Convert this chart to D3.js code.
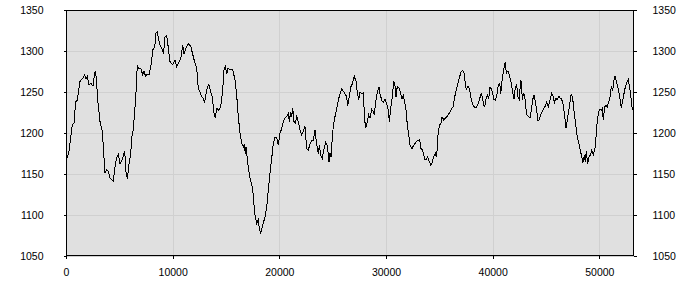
<!DOCTYPE html>
<html>
<head>
<meta charset="utf-8">
<script src="https://cdn.jsdelivr.net/npm/d3@7"></script>
<style>
body{margin:0;background:#fff;}
.axis text{font-family:"Liberation Sans",Arial,sans-serif;font-size:10.5px;fill:#000;}
.axis path{display:none;}
.axis line{stroke:#000;shape-rendering:crispEdges;}
.grid line{stroke:#d0d0d0;shape-rendering:crispEdges;}
.grid path{display:none;}
</style>
</head>
<body>
<svg id="myGraph" width="700" height="300"></svg>
<script>
window.addEventListener("load",function(){

	// distance along track
	var distance=[0,281,591,750,909,1059,1313,1528,1753,1875,1997,2156,2344,2531,2691,2784,2878,3000,3188,3403,
	3563,3656,3816,3966,4125,4284,4434,4566,4753,4903,5063,5278,5503,5625,5747,5906,6066,6159,6281,6441,
	6563,6684,6844,7003,7191,7313,7472,7622,7781,7997,8128,8316,8438,8559,8719,8813,9066,9141,9281,9441,
	9591,9750,10003,10219,10378,10622,10781,10941,11063,11250,11466,11691,11878,12094,12253,12403,12563,12722,12872,13003,
	13125,13247,13406,13566,13716,13875,13997,14128,14316,14503,14691,14813,14934,15066,15188,15375,15628,15844,16003,16153,
	16313,16472,16622,16716,16809,16875,16997,17091,17250,17409,17503,17625,17719,17878,18028,18122,18253,18375,18497,18656,
	18816,18966,19125,19284,19434,19594,19753,19903,20063,20222,20372,20531,20691,20841,20934,21066,21159,21253,21375,21497,
	21628,21778,21938,22097,22247,22406,22566,22716,22875,23034,23184,23344,23438,23559,23653,23747,23878,24028,24188,24347,
	24497,24656,24750,24844,24966,25059,25219,25378,25528,25688,25847,25997,26156,26316,26409,26531,26691,26841,27028,27188,
	27309,27441,27563,27722,27872,28003,28097,28247,28378,28500,28659,28809,28903,29034,29184,29344,29438,29597,29747,29906,
	30066,30216,30309,30441,30591,30722,30844,30938,31059,31219,31378,31500,31622,31753,31875,31997,32128,32250,32438,32597,
	32813,33000,33159,33281,33441,33628,33750,33909,34059,34191,34313,34472,34622,34716,34809,34875,34997,35156,35250,35409,
	35559,35719,35878,36122,36281,36441,36591,36750,36909,37059,37219,37313,37434,37528,37622,37753,37875,37997,38156,38316,
	38466,38625,38784,38934,39028,39159,39253,39403,39497,39628,39750,39872,40003,40125,40247,40378,40500,40659,40753,40875,
	40997,41128,41184,41278,41438,41597,41747,41878,42000,42122,42253,42375,42497,42628,42703,42778,42872,43003,43097,43219,
	43378,43500,43622,43781,43875,43997,44128,44250,44372,44503,44653,44813,44972,45066,45216,45375,45534,45656,45778,45909,
	46059,46219,46313,46472,46622,46753,46875,46997,47128,47250,47372,47503,47625,47784,47934,48094,48216,48347,48469,48591,
	48684,48778,48909,49031,49153,49284,49434,49594,49688,49809,49941,50063,50184,50278,50372,50503,50625,50747,50878,51000,
	51122,51253,51375,51469,51628,51778,51938,52059,52191,52313,52434,52594,52716,52875,52997,53091,53184];

	// elevation
	var elevation=[1165,1178,1210,1212,1238,1240,1263,1266,1271,1266,1269,1259,1261,1257,1273,1275,1259,1237,1214,1202,
	1170,1151,1155,1153,1145,1143,1141,1157,1170,1174,1162,1168,1178,1153,1144,1162,1174,1195,1202,1226,
	1250,1283,1278,1279,1271,1275,1269,1272,1271,1285,1301,1305,1322,1323,1312,1307,1301,1296,1317,1319,
	1304,1287,1283,1289,1281,1287,1293,1307,1296,1304,1309,1306,1296,1285,1279,1254,1250,1244,1242,1237,
	1248,1256,1259,1250,1244,1224,1218,1230,1228,1232,1252,1277,1281,1272,1279,1277,1277,1265,1246,1220,
	1200,1187,1183,1187,1175,1183,1169,1157,1145,1137,1131,1112,1100,1090,1094,1084,1078,1084,1090,1098,
	1110,1130,1151,1169,1187,1195,1194,1185,1200,1205,1214,1218,1220,1224,1214,1226,1220,1231,1214,1212,
	1220,1214,1204,1198,1202,1208,1181,1179,1187,1191,1191,1204,1193,1181,1175,1185,1173,1169,1181,1189,
	1185,1165,1175,1171,1195,1208,1220,1230,1240,1248,1254,1251,1248,1244,1233,1242,1256,1260,1269,1263,
	1250,1240,1250,1248,1249,1216,1206,1214,1222,1218,1229,1226,1222,1238,1250,1256,1248,1240,1237,1241,
	1236,1228,1214,1230,1244,1263,1257,1244,1257,1255,1248,1242,1246,1238,1228,1210,1198,1185,1181,1185,
	1189,1191,1192,1181,1179,1168,1167,1171,1165,1161,1163,1171,1175,1171,1181,1198,1209,1212,1220,1216,
	1218,1220,1223,1229,1232,1244,1253,1261,1269,1275,1276,1273,1261,1252,1256,1257,1250,1240,1234,1231,
	1231,1235,1242,1248,1244,1234,1232,1244,1246,1242,1256,1254,1248,1241,1240,1245,1256,1261,1248,1263,
	1275,1284,1287,1273,1276,1269,1261,1250,1241,1256,1259,1244,1241,1265,1261,1240,1248,1246,1232,1222,
	1220,1218,1228,1242,1246,1238,1228,1215,1216,1222,1226,1230,1234,1238,1232,1240,1248,1245,1237,1242,
	1241,1245,1243,1241,1234,1220,1206,1216,1227,1238,1248,1242,1227,1210,1195,1187,1179,1171,1164,1173,
	1165,1178,1162,1171,1173,1179,1173,1181,1195,1216,1226,1229,1228,1230,1216,1232,1234,1232,1238,1244,
	1256,1252,1265,1270,1261,1254,1242,1230,1240,1248,1256,1262,1265,1252,1240,1229,1230];

	var xTicks=[0,10000,20000,30000,40000,50000];
	var yTicks=[1050,1100,1150,1200,1250,1300,1350];

	var left=66,right=634,top=10,bottom=256;

	var xScale=d3.scaleLinear()
	.domain([0,53250])
	.range([left,right]);

	var yScale=d3.scaleLinear()
	.domain([1050,1350])
	.range([bottom,top]);

	var svg=d3.select("#myGraph");

	svg.append("rect")
	.attr("x",left)
	.attr("y",top)
	.attr("width",right-left)
	.attr("height",bottom-top)
	.attr("fill","#e0e0e0");

	// grid
	svg.append("g")
	.attr("class","grid")
	.attr("transform","translate(0,"+bottom+")")
	.call(d3.axisBottom(xScale).tickValues(xTicks).tickSize(-(bottom-top)).tickFormat(""));

	svg.append("g")
	.attr("class","grid")
	.attr("transform","translate("+left+",0)")
	.call(d3.axisLeft(yScale).tickValues(yTicks).tickSize(-(right-left)).tickFormat(""));

	var line=d3.line()
	.x(function(d,i){ return xScale(distance[i]); })
	.y(function(d){ return yScale(d); });

	svg.append("path")
	.attr("d",line(elevation))
	.attr("fill","none")
	.attr("stroke","#000")
	.attr("stroke-width",1)
	.attr("shape-rendering","crispEdges");

	// frame
	svg.append("rect")
	.attr("x",left+0.5)
	.attr("y",top+0.5)
	.attr("width",right-left-1)
	.attr("height",bottom-top-1)
	.attr("fill","none")
	.attr("stroke","#000")
	.attr("shape-rendering","crispEdges");

	svg.append("g")
	.attr("class","axis")
	.attr("transform","translate(0,"+(bottom-0.5)+")")
	.call(d3.axisBottom(xScale).tickValues(xTicks).tickSize(3).tickPadding(10).tickFormat(d3.format("d")));

	svg.append("g")
	.attr("class","axis")
	.attr("transform","translate("+(left+0.5)+",0)")
	.call(d3.axisLeft(yScale).tickValues(yTicks).tickSize(3).tickPadding(20).tickFormat(d3.format("d")));

	svg.append("g")
	.attr("class","axis")
	.attr("transform","translate("+(right-0.5)+",0)")
	.call(d3.axisRight(yScale).tickValues(yTicks).tickSize(3).tickPadding(16).tickFormat(d3.format("d")));

});
</script>
</body>
</html>
